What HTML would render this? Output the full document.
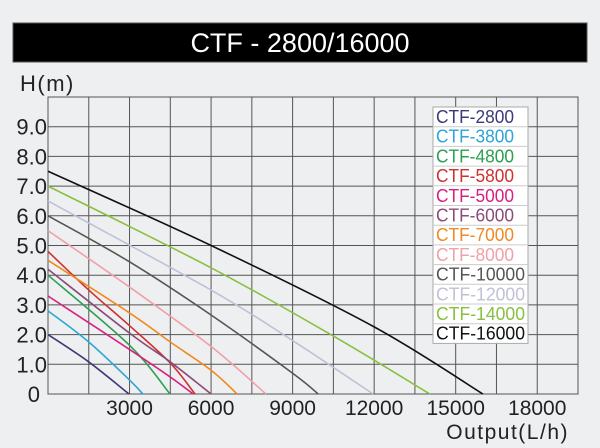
<!DOCTYPE html>
<html><head><meta charset="utf-8"><style>
html,body{margin:0;padding:0;background:#eeeff0;}
svg{display:block;font-family:"Liberation Sans",sans-serif;}
</style></head><body>
<svg id="chart" width="600" height="448" viewBox="0 0 600 448">
<rect x="0" y="0" width="600" height="448" fill="#eeeff0"/>
<rect x="13" y="23" width="574" height="39" fill="#000" stroke="#555"/>
<text x="300" y="52" text-anchor="middle" font-size="27" fill="#fff">CTF - 2800/16000</text>
<text x="20" y="91" font-size="22" fill="#222" letter-spacing="1.5">H(m)</text>
<text x="569" y="439" text-anchor="end" font-size="21" fill="#222" letter-spacing="1.5">Output(L/h)</text>
<g id="grid"></g><g id="series"></g><g id="labels"></g><g id="legend"></g>
</svg>
<script>
const xTicks=[3000,6000,9000,12000,15000,18000];
const yTicks=[0,1,2,3,4,5,6,7,8,9];
const yTickLabels=["0","1.0","2.0","3.0","4.0","5.0","6.0","7.0","8.0","9.0"];
const seriesNames=["CTF-2800","CTF-3800","CTF-4800","CTF-5800","CTF-5000","CTF-6000","CTF-7000","CTF-8000","CTF-10000","CTF-12000","CTF-14000","CTF-16000"];
const seriesColors=["#3a3a7a","#2aa6d8","#2aa050","#d03030","#d82080","#8a4a7a","#f08a20","#f0a0a8","#555555","#c0c0d8","#88c040","#111111"];
const q2800=[0,1500,2980], h2800=[2.0,1.08,0];
const q3800=[0,1500,3000,3490], h3800=[2.8,1.75,0.47,0];
const q4800=[0,3000,4490], h4800=[4.0,1.64,0];
const q5800=[0,1500,3000,4500,5410], h5800=[4.8,3.5,2.3,1.04,0];
const q5000=[0,1500,3000,4500,5340], h5000=[3.3,2.4,1.5,0.57,0];
const q6000=[0,3000,4500,6000], h6000=[4.2,2.05,1.08,0];
const q7000=[0,3000,4500,6000,6960], h7000=[4.5,2.73,1.75,0.8,0];
const q8000=[0,3000,6000,8020], h8000=[5.5,3.6,1.6,0];
const q10000=[0,3000,6000,9000,9940], h10000=[6.0,4.45,2.66,0.7,0];
const q12000=[0,6000,9000,11960], h12000=[6.5,3.5,1.8,0];
const q14000=[0,6000,10500,14050], h14000=[7.0,4.25,1.95,0];
const q16000=[0,6000,12000,16000], h16000=[7.5,5.0,2.26,0];
const seriesQ=[q2800,q3800,q4800,q5800,q5000,q6000,q7000,q8000,q10000,q12000,q14000,q16000];
const seriesH=[h2800,h3800,h4800,h5800,h5000,h6000,h7000,h8000,h10000,h12000,h14000,h16000];

const X0=48,X1=578,Y0=394,Y1=97,QMAX=19500,HMAX=10;
const sx=q=>X0+q*(X1-X0)/QMAX, sy=h=>Y0-h*(Y0-Y1)/HMAX;
const NS="http://www.w3.org/2000/svg";
function mk(tag,attrs,parent){const e=document.createElementNS(NS,tag);for(const k in attrs)e.setAttribute(k,attrs[k]);parent.appendChild(e);return e;}
const grid=document.getElementById('grid'),ser=document.getElementById('series'),lab=document.getElementById('labels'),leg=document.getElementById('legend');
for(let q=1500;q<QMAX;q+=1500){const l=mk('line',{x1:sx(q),x2:sx(q),y1:Y1,y2:Y0,stroke:'#555','stroke-width':1},grid);

}
for(let h=1;h<HMAX;h++){const l=mk('line',{x1:X0,x2:X1,y1:sy(h),y2:sy(h),stroke:'#555','stroke-width':1},grid);

}
const fr=mk('rect',{x:X0,y:Y1,width:X1-X0,height:Y0-Y1,fill:'none',stroke:'#555','stroke-width':1},grid);


xTicks.forEach(q=>{const t=mk('text',{x:sx(q),y:415,'text-anchor':'middle','font-size':21,fill:'#222'},lab);t.textContent=q;

});
yTicks.forEach((h,i)=>{const t=mk('text',{x:i==0?40:47,y:sy(h)+8,'text-anchor':'end','font-size':22,fill:'#222'},lab);t.textContent=yTickLabels[i];

});
function smooth(pts){let d=`M${pts[0][0]},${pts[0][1]}`;for(let i=0;i<pts.length-1;i++){const p0=pts[i-1]||pts[i],p1=pts[i],p2=pts[i+1],p3=pts[i+2]||p2;
const c1=[p1[0]+(p2[0]-p0[0])/6,p1[1]+(p2[1]-p0[1])/6],c2=[p2[0]-(p3[0]-p1[0])/6,p2[1]-(p3[1]-p1[1])/6];
d+=` C${c1[0]},${c1[1]} ${c2[0]},${c2[1]} ${p2[0]},${p2[1]}`;}return d;}
seriesNames.forEach((n,i)=>{const pts=seriesQ[i].map((q,j)=>[sx(q),sy(seriesH[i][j])]);
const p=mk('path',{d:smooth(pts),fill:'none',stroke:seriesColors[i],'stroke-width':1.6},ser);

});
const LX=433,LY=107,LW=95,RH=19.7;
const lb=mk('rect',{x:LX,y:LY,width:LW,height:RH*12,fill:'#fff',stroke:'#aaa'},leg);


seriesNames.forEach((n,i)=>{const y=LY+i*RH;
if(i>0){const l=mk('line',{x1:LX,x2:LX+LW,y1:y,y2:y,stroke:'#ccc'},leg);

}
const t=mk('text',{x:LX+3,y:y+16,'font-size':18,fill:seriesColors[i],textLength:n.length>8?89:78,lengthAdjust:'spacingAndGlyphs'},leg);t.textContent=n;

});
</script>
</body></html>
